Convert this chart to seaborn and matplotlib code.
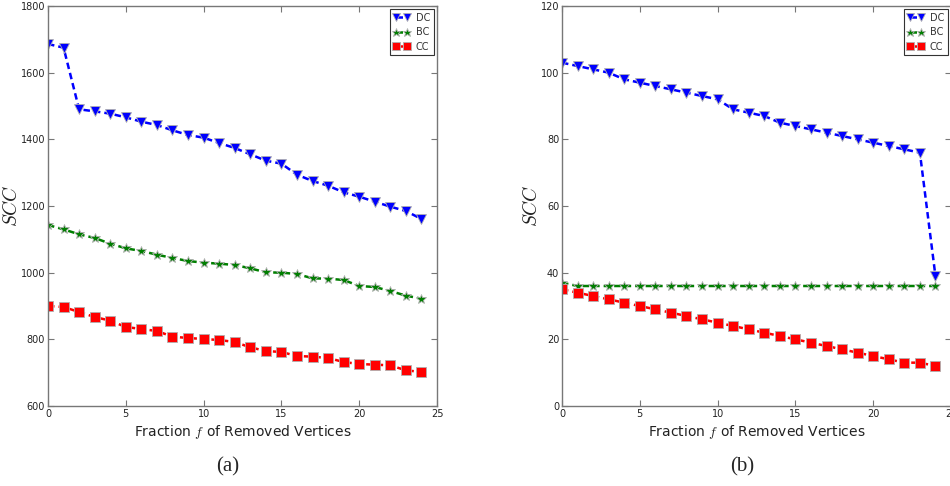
import numpy as np
import pandas as pd
import seaborn as sns
import matplotlib
matplotlib.use("Agg")
import matplotlib.pyplot as plt

x_vals = list(range(25))

dc_a = [1686, 1675, 1490, 1484, 1477, 1466, 1453, 1443, 1427, 1413, 1405, 1389, 1374,
        1355, 1336, 1327, 1294, 1275, 1261, 1241, 1228, 1213, 1198, 1185, 1161]
bc_a = [1143, 1130, 1115, 1104, 1087, 1073, 1065, 1054, 1044, 1035, 1030, 1027, 1023,
        1013, 1001, 1000, 996, 983, 982, 978, 960, 957, 945, 931, 922]
cc_a = [900, 897, 882, 867, 856, 837, 831, 825, 808, 804, 801, 798, 792,
        776, 765, 762, 750, 748, 744, 732, 726, 724, 722, 707, 702]

dc_b = [103, 102, 101, 100, 98, 97, 96, 95, 94, 93, 92, 89, 88,
        87, 85, 84, 83, 82, 81, 80, 79, 78, 77, 76, 39]
bc_b = [37] + [36] * 24
cc_b = [35, 34, 33, 32, 31, 30, 29, 28, 27, 26, 25, 24, 23,
        22, 21, 20, 19, 18, 17, 16, 15, 14, 13, 13, 12]

series_names = ["DC", "BC", "CC"]
colors = {"DC": "#0000ff", "BC": "#007f00", "CC": "#ff0000"}
markers = {"DC": "v", "BC": "*", "CC": "s"}
msizes = {"DC": 6.5, "BC": 7, "CC": 6.5}

panel_labels = ["(a)", "(b)"]
ylims = [(600, 1800), (0, 120)]
yticks = [list(range(600, 1801, 200)), list(range(0, 121, 20))]
xticks = [0, 5, 10, 15, 20, 25]

sns.set_style("white")
plt.rcParams["mathtext.fontset"] = "cm"
plt.rcParams["font.family"] = ["DejaVu Sans"]

fig = plt.figure(figsize=(9.5, 4.86), dpi=100)
ax_a = fig.add_axes([48 / 950, 1 - 406 / 486, 389 / 950, 400 / 486])
ax_b = fig.add_axes([562 / 950, 1 - 406 / 486, 389 / 950, 400 / 486])

data_sets = [
    {"DC": dc_a, "BC": bc_a, "CC": cc_a},
    {"DC": dc_b, "BC": bc_b, "CC": cc_b},
]

spine_col = "#777777"
for i, (ax, ds) in enumerate(zip([ax_a, ax_b], data_sets)):
    for name in series_names:
        sns.lineplot(x=x_vals, y=ds[name], ax=ax, color=colors[name],
                     marker=markers[name], markersize=msizes[name],
                     linewidth=1.8, label=name,
                     markeredgecolor="#b0b0b0", markeredgewidth=0.6)
        ln = ax.lines[-1]
        ln.set_dashes((2.6, 1.6))
    ax.set_xlim(0, 25)
    ax.set_ylim(*ylims[i])
    ax.set_xticks(xticks)
    ax.set_yticks(yticks[i])
    ax.tick_params(direction="in", length=4, width=0.8, colors=spine_col,
                   labelcolor="#222222", labelsize=7, top=True, right=True,
                   bottom=True, left=True, pad=2)
    for s in ax.spines.values():
        s.set_color(spine_col)
        s.set_linewidth(1.0)
    ax.set_xlabel("Fraction $f$ of Removed Vertices", fontsize=10, color="#222222", labelpad=3)
    ax.set_ylabel("$SCC$", fontsize=14, color="#222222", labelpad=0)
    leg = ax.legend(loc="upper right", numpoints=2, fontsize=7, fancybox=False,
                    framealpha=1, edgecolor="#333333", borderaxespad=0.35,
                    handlelength=1.7, handletextpad=0.6, borderpad=0.35,
                    labelspacing=0.45, markerscale=0.9)
    leg.get_frame().set_linewidth(0.8)
    for t in leg.get_texts():
        t.set_color("#333333")

fig.text(228 / 950, 1 - 467 / 486, panel_labels[0], ha="center", va="center",
         fontsize=15, family=["Liberation Serif"])
fig.text(742 / 950, 1 - 467 / 486, panel_labels[1], ha="center", va="center",
         fontsize=15, family=["Liberation Serif"])

fig.savefig("out.png", dpi=100)
